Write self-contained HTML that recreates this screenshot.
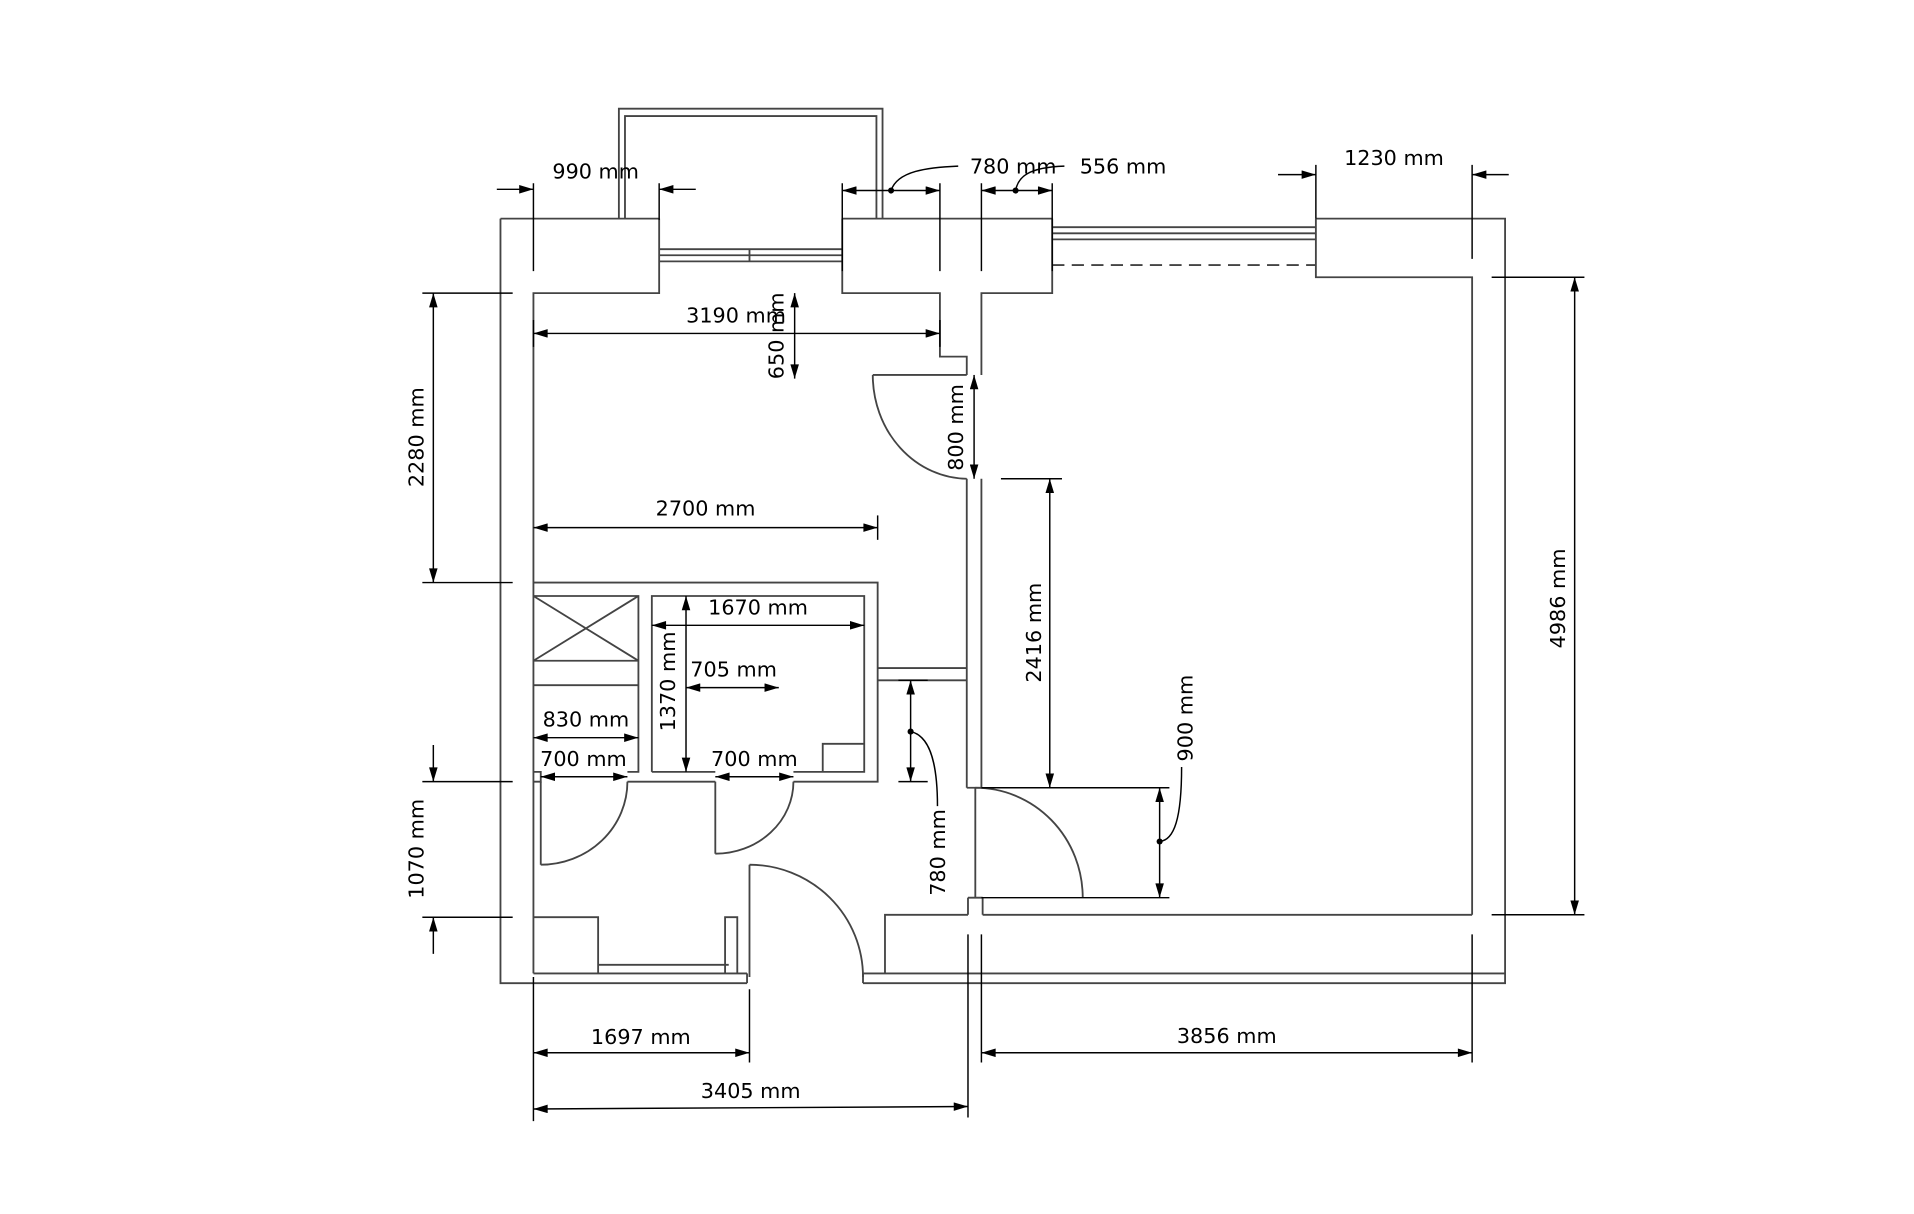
<!DOCTYPE html>
<html><head><meta charset="utf-8"><style>
html,body{margin:0;padding:0;background:#fff;width:1914px;height:1214px;overflow:hidden}
svg{display:block}
text{font-family:"DejaVu Sans","Liberation Sans",sans-serif;font-size:17px;fill:#000}
.w{stroke:#444;stroke-width:1.5;fill:none}
.d{stroke:#000;stroke-width:1.2;fill:none}
</style></head><body>
<svg width="1914" height="1214" viewBox="0 0 1568 994" preserveAspectRatio="none">
<defs>
<marker id="a" viewBox="0 0 10 6" refX="10" refY="3" markerWidth="14" markerHeight="7" markerUnits="userSpaceOnUse" orient="auto-start-reverse"><path d="M0,0L10,3L0,6z" fill="#000"/></marker>
</defs>
<g class="w">
<path d="M410,179V805H612M707,805H1233V179H1078M862,179H690M540,179H410"/>
<path d="M437,797H612M707,797H1233M612,797V805M707,797V805"/>
<path d="M540,179V240H437V797"/>
<path d="M540,204H690M540,209H690M540,214H690M614,204V214"/>
<path d="M507,179V89H723V179M512,179V95H718V179"/>
<path d="M690,179V240H770V292H792V307M862,179V240H804V307"/>
<path d="M862,186H1078M862,191H1078M862,196H1078"/>
<path d="M862,217H1078" stroke-dasharray="10,6"/>
<path d="M1078,179V227H1206V749"/>
<path d="M792,392V645M804,392V645M792,645H804"/>
<path d="M793,735V749M805,735V749M793,735H805"/>
<path d="M725,797V749H793M805,749H1206"/>
<path d="M715,307H792M715,307A78,85 0 0 0 792,392"/>
<path d="M799,645V735M799,645A88,90 0 0 1 887,735"/>
<path d="M614,708V800M614,708A93,92 0 0 1 707,800"/>
<path d="M443,640V708M443,708A71,68 0 0 0 514,640"/>
<path d="M586,640V699M586,699A64,59 0 0 0 650,640"/>
<path d="M437,477H719V640H650M586,640H514M437,640H443V632H437"/>
<path d="M534,632V488H708V632H650M586,632H534"/>
<path d="M674,632V609H708"/>
<path d="M437,488H523V632H514M437,541H523M437,488L523,541M523,488L437,541M437,561H523"/>
<path d="M719,547H792M719,557H792"/>
<path d="M437,751H490V797M490,790H597M594,797V751H604V797"/>
</g>
<g class="d">
<path d="M407,155H437" marker-end="url(#a)"/><path d="M570,155H540" marker-end="url(#a)"/>
<path d="M437,150V222M540,150V180"/>
<path d="M690,156H770" marker-start="url(#a)" marker-end="url(#a)"/>
<path d="M690,150V222M770,150V222M804,150V222M862,150V222"/>
<path d="M730,156C735,140 760,137 785,136"/>
<path d="M804,156H862" marker-start="url(#a)" marker-end="url(#a)"/>
<path d="M832,156C834,145 842,137 872,136"/>
<path d="M1047,143H1078" marker-end="url(#a)"/><path d="M1236,143H1206" marker-end="url(#a)"/>
<path d="M1078,135V179M1206,135V212"/>
<path d="M437,273H770" marker-start="url(#a)" marker-end="url(#a)"/>
<path d="M437,262V284M770,262V284"/>
<path d="M651,240V310" marker-start="url(#a)" marker-end="url(#a)"/>
<path d="M798,307V392" marker-start="url(#a)" marker-end="url(#a)"/>
<path d="M355,240V477" marker-start="url(#a)" marker-end="url(#a)"/>
<path d="M346,240H420M346,477H420"/>
<path d="M437,432H719" marker-start="url(#a)" marker-end="url(#a)"/>
<path d="M719,422V442"/>
<path d="M534,512H708" marker-start="url(#a)" marker-end="url(#a)"/>
<path d="M562,488V632" marker-start="url(#a)" marker-end="url(#a)"/>
<path d="M562,563H638" marker-start="url(#a)" marker-end="url(#a)"/>
<path d="M437,604H523" marker-start="url(#a)" marker-end="url(#a)"/>
<path d="M443,636H514" marker-start="url(#a)" marker-end="url(#a)"/>
<path d="M586,636H650" marker-start="url(#a)" marker-end="url(#a)"/>
<path d="M746,557V640" marker-start="url(#a)" marker-end="url(#a)"/>
<path d="M736,557H760M736,640H760"/>
<path d="M746,599C760,602 768,620 768,660"/>
<path d="M860,392V645" marker-start="url(#a)" marker-end="url(#a)"/>
<path d="M820,392H870M804,645H958M804,735H958"/>
<path d="M950,645V735" marker-start="url(#a)" marker-end="url(#a)"/>
<path d="M950,689C962,688 968,670 968,628"/>
<path d="M1290,227V749" marker-start="url(#a)" marker-end="url(#a)"/>
<path d="M1222,227H1298M1222,749H1298"/>
<path d="M355,610V640" marker-end="url(#a)"/><path d="M355,781V751" marker-end="url(#a)"/>
<path d="M346,640H420M346,751H420"/>
<path d="M437,862H614" marker-start="url(#a)" marker-end="url(#a)"/>
<path d="M437,800V918M614,810V870M793,765V915M804,765V870M1206,765V870"/>
<path d="M437,908L793,906" marker-start="url(#a)" marker-end="url(#a)"/>
<path d="M804,862H1206" marker-start="url(#a)" marker-end="url(#a)"/>
</g>
<g fill="#000" stroke="none">
<circle cx="730" cy="156" r="2.5"/><circle cx="832" cy="156" r="2.5"/>
<circle cx="746" cy="599" r="2.5"/><circle cx="950" cy="689" r="2.5"/>
</g>
<g text-anchor="middle">
<text x="488" y="146">990 mm</text>
<text x="830" y="142">780 mm</text>
<text x="920" y="142">556 mm</text>
<text x="1142" y="135">1230 mm</text>
<text x="603" y="264">3190 mm</text>
<text x="578" y="422">2700 mm</text>
<text x="621" y="503">1670 mm</text>
<text x="601" y="554">705 mm</text>
<text x="480" y="595">830 mm</text>
<text x="478" y="627">700 mm</text>
<text x="618" y="627">700 mm</text>
<text x="525" y="855">1697 mm</text>
<text x="615" y="899">3405 mm</text>
<text x="1005" y="854">3856 mm</text>
<text transform="translate(642,275) rotate(-90)">650 mm</text>
<text transform="translate(789,350) rotate(-90)">800 mm</text>
<text transform="translate(347,358) rotate(-90)">2280 mm</text>
<text transform="translate(553,558) rotate(-90)">1370 mm</text>
<text transform="translate(774,698) rotate(-90)">780 mm</text>
<text transform="translate(853,518) rotate(-90)">2416 mm</text>
<text transform="translate(977,588) rotate(-90)">900 mm</text>
<text transform="translate(1282,490) rotate(-90)">4986 mm</text>
<text transform="translate(347,695) rotate(-90)">1070 mm</text>
</g>
</svg>
</body></html>
